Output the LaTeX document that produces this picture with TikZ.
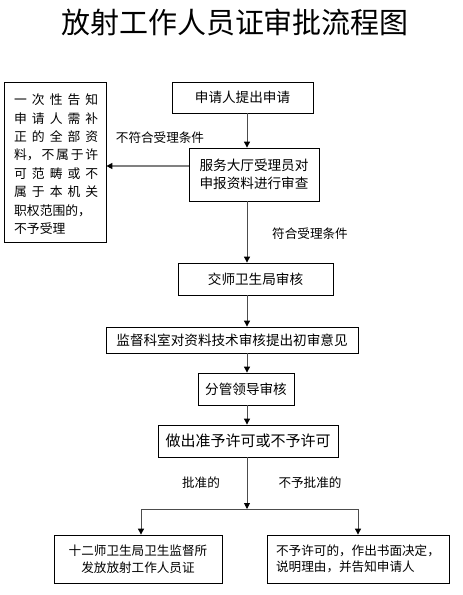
\documentclass[tikz,border=0pt]{standalone}
\usepackage{fontspec}
\setmainfont{Noto Sans CJK SC}
\usetikzlibrary{arrows.meta}
\begin{document}
\begin{tikzpicture}[x=1pt,y=-1pt,
  box/.style={draw=black,line width=0.8pt,inner sep=0pt,font=\fontsize{13.6}{18}\selectfont},
  lbl/.style={font=\fontsize{12.6}{14}\selectfont,inner sep=0pt},
  arr/.style={draw=gray!60!black,line width=0.9pt,-{Triangle[width=6pt,length=6pt,color=black]}},
  garr/.style={draw=gray,line width=1.6pt,-{Triangle[width=6pt,length=6pt,color=black]}},
  ln/.style={draw=gray!60!black,line width=0.9pt}]
\useasboundingbox (0,0) rectangle (463,595);
\node[inner sep=0pt,font=\fontsize{29}{32}\selectfont] (title) at (235,22) {放射工作人员证审批流程图};
\node[box,minimum width=102pt,minimum height=160pt] (L) at (55,162) {};
\foreach \t [count=\i] in {一\hfill 次\hfill 性\hfill 告\hfill 知,申\hfill 请\hfill 人\hfill 需\hfill 补,正\hfill 的\hfill 全\hfill 部\hfill 资,料，\hfill 不\hfill 属\hfill 于\hfill 许,可\hfill 范\hfill 畴\hfill 或\hfill 不,属\hfill 于\hfill 本\hfill 机\hfill 关}
  \node[anchor=west,inner sep=0pt,font=\fontsize{12.8}{14}\selectfont] (Lt\i) at (14,{100+18.4*(\i-1)}) {\makebox[84pt][s]{\t}};
\node[anchor=west,inner sep=0pt,font=\fontsize{12.8}{14}\selectfont] (Lt7) at (14,211) {职权范围的，};
\node[anchor=west,inner sep=0pt,font=\fontsize{12.8}{14}\selectfont] (Lt8) at (14,229) {不予受理};
\node[box,minimum width=141pt,minimum height=31pt] (B1) at (242.5,97.5) {申请人提出申请};
\node[box,minimum width=130pt,minimum height=53pt,align=left] (B2) at (254,174.5) {服务大厅受理员对\\申报资料进行审查};
\node[box,minimum width=155pt,minimum height=32pt] (B3) at (255.5,279) {交师卫生局审核};
\node[box,minimum width=252pt,minimum height=26pt] (B4) at (232,340) {监督科室对资料技术审核提出初审意见};
\node[box,minimum width=96pt,minimum height=32pt] (B5) at (246,389) {分管领导审核};
\node[box,minimum width=180pt,minimum height=32pt,font=\fontsize{15}{18}\selectfont] (B6) at (248,441) {做出准予许可或不予许可};
\node[box,minimum width=168pt,minimum height=48pt,align=center,font=\fontsize{12.6}{16.5}\selectfont] (BL) at (138,559) {十二师卫生局卫生监督所\\发放放射工作人员证};
\node[box,minimum width=182pt,minimum height=48pt,align=left,font=\fontsize{12.6}{16.5}\selectfont] (BR) at (358,559) {不予许可的，作出书面决定，\\说明理由，并告知申请人};
\coordinate (ax) at (247,0);
\coordinate (J) at (247,509);
\coordinate (JL) at (141,509);
\coordinate (JR) at (358,509);
\draw[arr] (ax |- B1.south) -- (ax |- B2.north);
\draw[garr] ([yshift=8.5pt]B2.west) -- ([yshift=8.5pt]B2.west -| L.east);
\draw[arr] (ax |- B2.south) -- (ax |- B3.north);
\draw[arr] (ax |- B3.south) -- (ax |- B4.north);
\draw[arr] (ax |- B4.south) -- (ax |- B5.north);
\draw[arr] (ax |- B5.south) -- (ax |- B6.north);
\draw[arr] (ax |- B6.south) -- (J);
\draw[ln] (JL) -- (JR);
\draw[arr] (JL) -- (JL |- BL.north);
\draw[arr] (JR) -- (JR |- BR.north);
\node[lbl] (l1) at (160,138) {不符合受理条件};
\node[lbl] (l2) at (310,234) {符合受理条件};
\node[lbl] (l3) at (201,483) {批准的};
\node[lbl] (l4) at (310,483) {不予批准的};
\end{tikzpicture}
\end{document}
